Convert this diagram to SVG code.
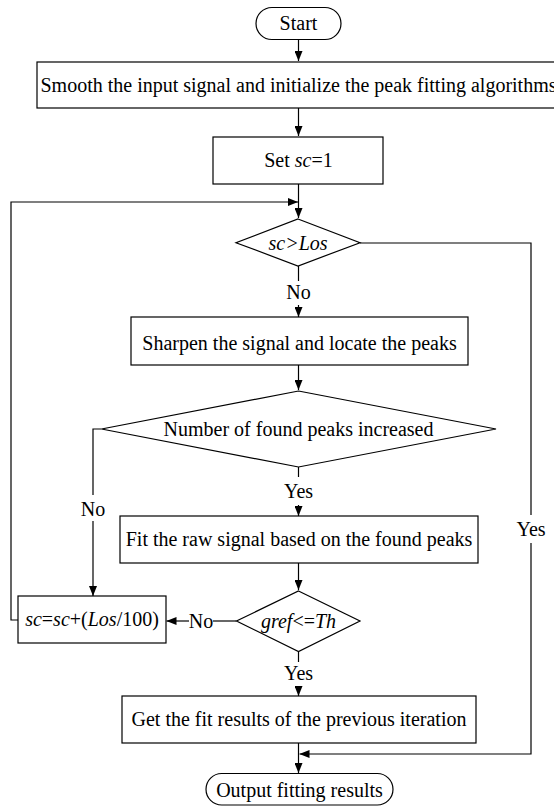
<svg xmlns="http://www.w3.org/2000/svg" width="554" height="806" viewBox="0 0 554 806">
<style>
.b{fill:#fff;stroke:#000;stroke-width:1.2}
text{font-family:'Liberation Serif','Times New Roman',Times,'DejaVu Serif',serif;font-size:20px;fill:#000;text-anchor:middle}
.i{font-style:italic}
.c{fill:none;stroke:#000;stroke-width:1.2}
</style>
<defs>
<marker id="a" markerUnits="userSpaceOnUse" markerWidth="10" markerHeight="8" refX="10" refY="4" orient="auto">
<path d="M0,0 L10,4 L0,8 z" fill="#000"/>
</marker>
</defs>
<rect width="554" height="806" fill="#fff"/>
<g id="connectors" font-family="Liberation Serif, serif">
<path class="c" d="M298.5,39 V61" marker-end="url(#a)"/>
<path class="c" d="M298.5,108 V136" marker-end="url(#a)"/>
<path class="c" d="M298.5,184 V218" marker-end="url(#a)"/>
<path class="c" d="M18,620 H11 V202 H298" marker-end="url(#a)"/>
<path class="c" d="M298.5,266 V281"/>
<path class="c" d="M298.5,305 V317" marker-end="url(#a)"/>
<path class="c" d="M298.5,365 V390" marker-end="url(#a)"/>
<path class="c" d="M298.5,467 V477"/>
<path class="c" d="M298.5,505 V516" marker-end="url(#a)"/>
<path class="c" d="M101.5,429 H93 V495"/>
<path class="c" d="M93,521 V596" marker-end="url(#a)"/>
<path class="c" d="M298.5,563 V590" marker-end="url(#a)"/>
<path class="c" d="M236.5,621 H213"/>
<path class="c" d="M189,621 H166.5" marker-end="url(#a)"/>
<path class="c" d="M298.5,651.5 V662"/>
<path class="c" d="M298.5,687 V696" marker-end="url(#a)"/>
<path class="c" d="M298.5,743 V773" marker-end="url(#a)"/>
<path class="c" d="M360,243 H531 V515"/>
<path class="c" d="M531,543 V754 H299.5" marker-end="url(#a)"/>
<text x="298.5" y="299">No</text>
<text x="298.5" y="498">Yes</text>
<text x="93" y="516">No</text>
<text x="531" y="536">Yes</text>
<text x="201" y="628">No</text>
<text x="298.5" y="680">Yes</text>
</g>
<g id="start">
<rect class="b" x="256" y="7.5" width="85" height="32" rx="16"/>
<text x="298.5" y="30">Start</text>
</g>
<g id="smooth">
<rect class="b" x="37" y="62" width="530" height="46"/>
<text x="298.5" y="92">Smooth the input signal and initialize the peak fitting algorithms</text>
</g>
<g id="setsc">
<rect class="b" x="213" y="137" width="170" height="47"/>
<text x="298.5" y="167">Set <tspan class="i">sc</tspan>=1</text>
</g>
<g id="cond1">
<polygon class="b" points="298,219 360,242.7 298,266 236,242.7"/>
<text class="i" x="298" y="250">sc&gt;Los</text>
</g>
<g id="sharpen">
<rect class="b" x="131" y="317" width="337" height="48"/>
<text x="299.5" y="350">Sharpen the signal and locate the peaks</text>
</g>
<g id="cond2">
<polygon class="b" points="298.5,391 496,429 298.5,467 101.5,429"/>
<text x="298.5" y="436">Number of found peaks increased</text>
</g>
<g id="fit">
<rect class="b" x="120" y="516" width="358" height="47"/>
<text x="299" y="546">Fit the raw signal based on the found peaks</text>
</g>
<g id="cond3">
<polygon class="b" points="298.5,591 360,621 298.5,651.5 236.5,621"/>
<text x="298.5" y="628"><tspan class="i">gref</tspan>&lt;=<tspan class="i">Th</tspan></text>
</g>
<g id="inc">
<rect class="b" x="18" y="596" width="148" height="47"/>
<text x="92" y="626"><tspan class="i">sc</tspan>=<tspan class="i">sc</tspan>+(<tspan class="i">Los</tspan>/100)</text>
</g>
<g id="getprev">
<rect class="b" x="122" y="696" width="354" height="47"/>
<text x="299" y="726">Get the fit results of the previous iteration</text>
</g>
<g id="output">
<rect class="b" x="206" y="773.5" width="187" height="31.5" rx="15.75"/>
<text x="299.5" y="797">Output fitting results</text>
</g>
</svg>
